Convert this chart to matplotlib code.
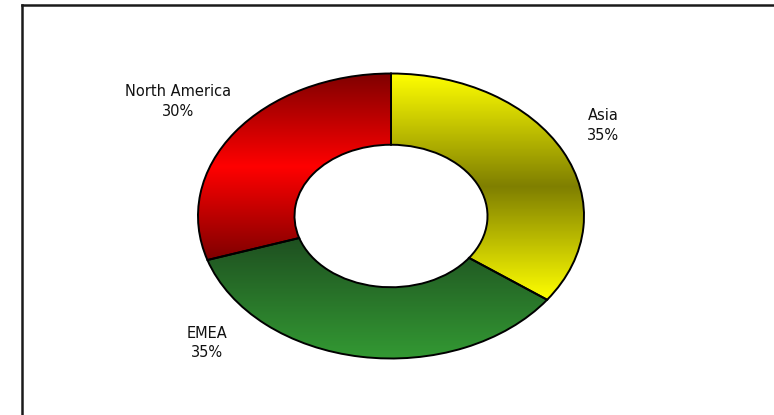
import numpy as np
import matplotlib
matplotlib.use('Agg')
import matplotlib.pyplot as plt
from matplotlib.colors import LinearSegmentedColormap
from matplotlib.lines import Line2D

regions = ['Asia', 'EMEA', 'North America']
shares = [35, 35, 30]
grad_colors = [['#ffff00', '#7f7f00', '#ffff00'],
               ['#1e4f20', '#339933'],
               ['#7f0000', '#ff0000', '#7f0000']]

W, H = 774, 415
fig = plt.figure(figsize=(W / 100, H / 100), dpi=100)
ax = fig.add_axes([0, 0, 1, 1])

# donut centre / radii in pixels (ellipse, chart was stretched)
cx, cy, rx, ry = 391, 216, 193, 142.5

wedges, _ = ax.pie(shares, startangle=90, counterclock=False, radius=1,
                   wedgeprops=dict(width=0.5, edgecolor='black', linewidth=1.4))

for w, cols in zip(wedges, grad_colors):
    bb = w.get_path().get_extents()
    cmap = LinearSegmentedColormap.from_list('g', cols)
    grad = np.linspace(0, 1, 256).reshape(-1, 1)
    im = ax.imshow(grad, cmap=cmap, aspect='auto', origin='upper',
                   extent=[bb.x0, bb.x1, bb.y0, bb.y1], zorder=w.get_zorder() - 0.1,
                   interpolation='bilinear')
    im.set_clip_path(w)
    w.set_facecolor('none')

ax.set_aspect('auto')
ax.set_xlim(-cx / rx, (W - cx) / rx)
ax.set_ylim(-(H - cy) / ry, cy / ry)
ax.axis('off')


def px(x, y):
    return (x - cx) / rx, (cy - y) / ry


label_pos = {'Asia': (603, 116), 'EMEA': (207, 333), 'North America': (178, 92)}
for name, val in zip(regions, shares):
    x, y = label_pos[name]
    ax.text(*px(x, y), name, ha='center', va='center', fontsize=10.5, color='#111111')
    ax.text(*px(x, y + 19.5), f'{val}%', ha='center', va='center', fontsize=10.5, color='#111111')

# outer frame (only left and top edges visible)
fig.add_artist(Line2D([21.5 / W, 21.5 / W], [0, 1 - 5.5 / H], color='#1a1a1a', lw=1.8,
                      transform=fig.transFigure))
fig.add_artist(Line2D([21.5 / W, 1], [1 - 5.5 / H, 1 - 5.5 / H], color='#1a1a1a', lw=1.8,
                      transform=fig.transFigure))

fig.savefig('out.png', dpi=100)
